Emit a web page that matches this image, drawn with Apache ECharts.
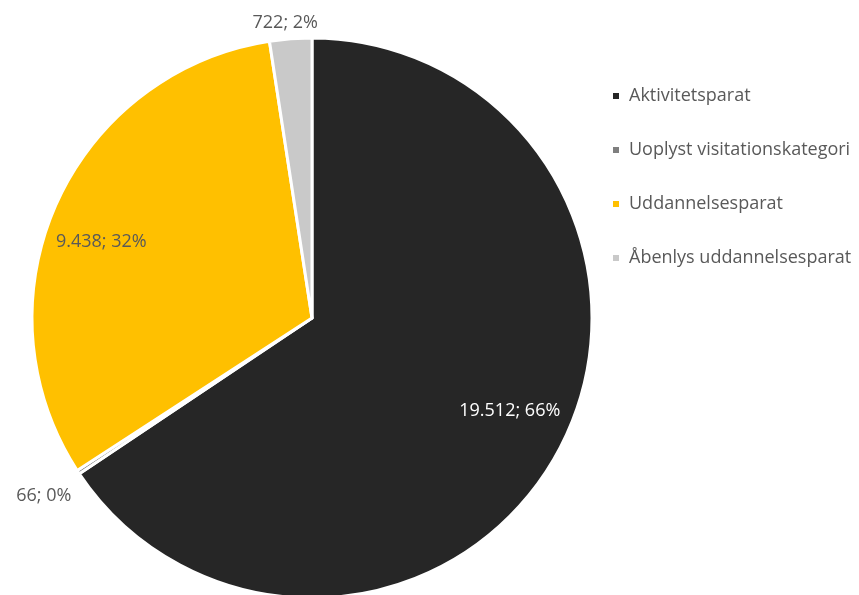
<!DOCTYPE html>
<html>
<head>
<meta charset="utf-8">
<script src="https://cdn.jsdelivr.net/npm/echarts@6/dist/echarts.min.js"></script>
<style>
  html, body { margin: 0; padding: 0; background: #fff; }
  #chart { width: 859px; height: 595px; }
</style>
</head>
<body>
<div id="chart"></div>
<script>
const categories = ['Aktivitetsparat', 'Uoplyst visitationskategori', 'Uddannelsesparat', 'Åbenlys uddannelsesparat'];
const values = [19512, 66, 9438, 722];

const colors = ['#262626', '#7f7f7f', '#ffc000', '#c9c9c9'];
const labelColors = ['#ffffff', '#595959', '#595959', '#595959'];
// label placement: distance from centre (share of radius) and turn off the slice bisector (degrees)
const labelRadius = [0.78, 1.15, 0.80, 1.06];
const labelTurn = [-3.0, -0.2, -4.3, -0.8];

const cx = 312, cy = 318, R = 280;
const font = '"Open Sans", sans-serif';

function fmt(v) {
  return String(v).replace(/\B(?=(\d{3})+(?!\d))/g, '.');
}

const chart = echarts.init(document.getElementById('chart'));
chart.setOption({
  animation: false,
  color: colors,
  legend: {
    orient: 'vertical',
    left: 611,
    top: 87,
    padding: 0,
    itemWidth: 8,
    itemHeight: 8,
    itemGap: 36,
    icon: 'rect',
    textStyle: { fontFamily: font, fontSize: 18, color: '#595959', padding: [0, 0, 0, 4] },
    data: categories
  },
  series: [{
    type: 'pie',
    center: [cx, cy],
    radius: R,
    startAngle: 90,
    clockwise: true,
    percentPrecision: 0,
    avoidLabelOverlap: false,
    itemStyle: { borderColor: '#fff', borderWidth: 3 },
    label: {
      position: 'inside',
      fontFamily: font,
      fontSize: 18,
      formatter: p => fmt(p.value) + '; ' + p.percent + '%'
    },
    labelLine: { show: false },
    labelLayout: function (p) {
      const r = p.labelRect;
      const lx = r.x + r.width / 2, ly = r.y + r.height / 2;
      const a = Math.atan2(ly - cy, lx - cx) + labelTurn[p.dataIndex] * Math.PI / 180;
      const d = labelRadius[p.dataIndex] * R;
      return { dx: cx + d * Math.cos(a) - lx, dy: cy + d * Math.sin(a) - ly };
    },
    data: categories.map((c, i) => ({
      name: c,
      value: values[i],
      label: { color: labelColors[i] }
    }))
  }]
});
</script>
</body>
</html>
